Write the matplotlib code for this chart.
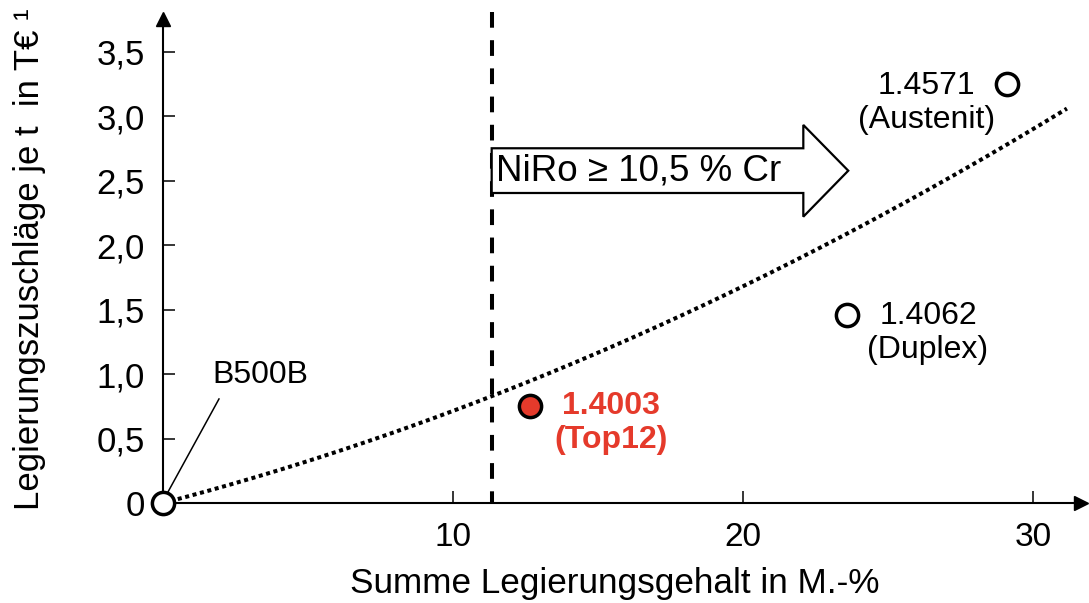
import numpy as np
import matplotlib
matplotlib.use("Agg")
import matplotlib.pyplot as plt
from matplotlib.patches import Polygon

plt.rcParams['font.family'] = ['Liberation Sans', 'DejaVu Sans']

# steel grades: total alloy content (M.-%) vs. alloy surcharge (T€ per t)
grades = ["B500B", "1.4003", "1.4062", "1.4571"]
subtitles = ["", "(Top12)", "(Duplex)", "(Austenit)"]
alloy_content = [0.0, 12.65, 23.6, 29.1]
surcharge = [0.0, 0.75, 1.46, 3.25]

# quadratic trend through the origin: y = a*x + b*x^2
trend_a = 0.0588
trend_b = 0.001263
trend_end = 31.17

cr_limit = 11.35  # stainless threshold (10,5 % Cr)

x_ticks = [10, 20, 30]
y_ticks = [0, 0.5, 1.0, 1.5, 2.0, 2.5, 3.0, 3.5]
y_ticklabels = ["0", "0,5", "1,0", "1,5", "2,0", "2,5", "3,0", "3,5"]

red = "#e53a2b"

fig = plt.figure(figsize=(10.89, 6.03), dpi=100)
ax = fig.add_axes([163 / 1089, 100 / 603, 918 / 1089, 484 / 603])
ax.set_xlim(0, 918 / 29)
ax.set_ylim(0, 484 / 128.9)

for side in ("top", "right"):
    ax.spines[side].set_visible(False)
for side in ("left", "bottom"):
    ax.spines[side].set_linewidth(1.5)

# arrow heads on both axes
ax.plot(1, 0, marker=">", ms=10, color="k", transform=ax.transAxes, clip_on=False)
ax.plot(0, 1, marker="^", ms=10, color="k", transform=ax.transAxes, clip_on=False)

ax.set_xticks(x_ticks)
ax.set_xticklabels([str(t) for t in x_ticks])
ax.set_yticks(y_ticks)
ax.set_yticklabels(y_ticklabels)
ax.tick_params(direction="in", length=8.5, width=1.1, labelsize=24, color="k")
ax.tick_params(axis="y", pad=13, labelsize=25)
ax.tick_params(axis="x", pad=13.5)

# trend line
xs = np.linspace(0, trend_end, 200)
ax.plot(xs, np.polyval([trend_b, trend_a, 0], xs), color="k", lw=2.9,
        linestyle=(0, (1, 0.9)), dash_capstyle="butt", zorder=2)

# threshold line
ax.plot([cr_limit, cr_limit], [3.81, 0], color="k", lw=2.9,
        linestyle=(0, (3.9, 3.1)), dash_capstyle="butt", clip_on=False, zorder=2)

# block arrow
arrow = Polygon([(11.334, 2.752), (22.08, 2.752), (22.08, 2.933), (23.63, 2.578),
                 (22.08, 2.221), (22.08, 2.405), (11.334, 2.405)],
                closed=True, facecolor="white", edgecolor="k", lw=1.6, zorder=3)
ax.add_patch(arrow)
ax.text(11.5, 2.578, "NiRo ≥ 10,5 % Cr", fontsize=26.5, ha="left", va="center", zorder=4)

# data points
faces = ["white", red, "white", "white"]
for xv, yv, fc in zip(alloy_content, surcharge, faces):
    ax.plot(xv, yv, "o", ms=16, mfc=fc, mec="k", mew=2.5, clip_on=False, zorder=5)

ax.text(26.34, 3.103, grades[3] + "\n" + subtitles[3], fontsize=23,
        ha="center", va="center", linespacing=1.15)
ax.text(26.38, 1.319, grades[2] + "\n" + subtitles[2], fontsize=23,
        ha="center", va="center", linespacing=1.15)
ax.text(15.45, 0.621, grades[1] + "\n" + subtitles[1], fontsize=23,
        ha="center", va="center", linespacing=1.15, color=red, fontweight="bold")
ax.text(3.345, 0.993, grades[0], fontsize=23, ha="center", va="center")
ax.plot([0.17, 1.93], [0.085, 0.807], color="k", lw=1.1, zorder=4)

fig.text(615 / 1089, 1 - 583 / 603, "Summe Legierungsgehalt in M.-%",
         fontsize=25.3, ha="center", va="center")
fig.text(29.5 / 1089, 1 - 510 / 603, "Legierungszuschläge je t  in T€ ¹",
         fontsize=25, rotation=90, ha="center", va="bottom")

fig.savefig("out.png", dpi=100, facecolor="white")
